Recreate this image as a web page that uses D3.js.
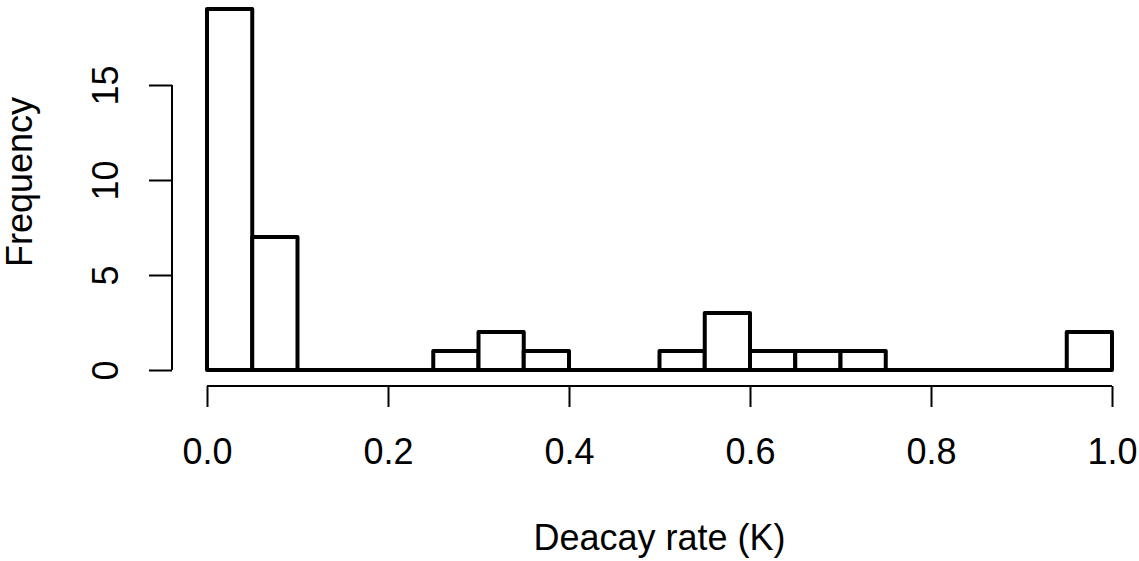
<!DOCTYPE html>
<html lang="en">
<head>
<meta charset="UTF-8">
<title>Histogram</title>
<script src="https://cdn.jsdelivr.net/npm/d3@7"></script>
<style>
  body { margin: 0; background: #fff; }
  text { font-family: "Liberation Sans", Arial, sans-serif; fill: #000; }
</style>
</head>
<body>
<svg width="1139" height="561"></svg>
<script>
    // bin edges (width 0.05) and counts
    const binStarts = [0, 0.05, 0.1, 0.15, 0.2, 0.25, 0.3, 0.35, 0.4, 0.45,
                       0.5, 0.55, 0.6, 0.65, 0.7, 0.75, 0.8, 0.85, 0.9, 0.95]
    const counts = [19, 7, 0, 0, 0, 1, 2, 1, 0, 0, 1, 3, 1, 1, 1, 0, 0, 0, 0, 2]
    const binWidth = 0.05
    const xTicks = [0, 0.2, 0.4, 0.6, 0.8, 1.0]
    const yTicks = [0, 5, 10, 15]

    const svg = d3.select("svg")
    const fontSize = "36px"

    const x = d3.scaleLinear().domain([0, 1]).range([207, 1112])
    const y = d3.scaleLinear().domain([0, 19]).range([370, 9])

    // bars drawn as closed paths so zero-count bins still show on the baseline
    svg.append("g")
        .selectAll("path")
        .data(binStarts)
        .join("path")
        .attr("d", (d, i) => {
            const x0 = x(d), x1 = x(d + binWidth), y0 = y(0), y1 = y(counts[i])
            return `M${x0},${y0}V${y1}H${x1}V${y0}Z`
        })
        .attr("fill", "white")
        .attr("stroke", "black")
        .attr("stroke-width", 4)
        .attr("stroke-linejoin", "round")

    // x axis
    const xAxis = svg.append("g")
        .attr("transform", "translate(0,386)")
        .call(d3.axisBottom(x).tickValues(xTicks).tickFormat(d3.format(".1f")).tickSize(21).tickSizeOuter(0))
    xAxis.select(".domain").attr("stroke-width", 2).attr("d", `M${x(0)},0H${x(1)}`)
    xAxis.selectAll(".tick line").attr("stroke-width", 2)
    xAxis.selectAll(".tick text")
        .attr("y", 78).attr("dy", 0)
        .style("font-size", fontSize)

    // y axis
    const yAxis = svg.append("g")
        .attr("transform", "translate(172,0)")
        .call(d3.axisLeft(y).tickValues(yTicks).tickSize(23).tickSizeOuter(0))
    yAxis.select(".domain").attr("stroke-width", 2).attr("d", `M0,${y(0)}V${y(15)}`)
    yAxis.selectAll(".tick line").attr("stroke-width", 2)
    yAxis.selectAll(".tick text")
        .attr("x", 0).attr("dy", 0)
        .attr("text-anchor", "middle")
        .attr("transform", "translate(-54,0) rotate(-90)")
        .style("font-size", fontSize)
    svg.selectAll(".domain").attr("fill", "none")

    // titles
    svg.append("text")
        .attr("x", x(0.5)).attr("y", 550)
        .attr("text-anchor", "middle")
        .style("font-size", fontSize)
        .text("Deacay rate (K)")

    svg.append("text")
        .attr("transform", `translate(32,182) rotate(-90)`)
        .attr("text-anchor", "middle")
        .style("font-size", fontSize)
        .text("Frequency")
</script>
</body>
</html>
